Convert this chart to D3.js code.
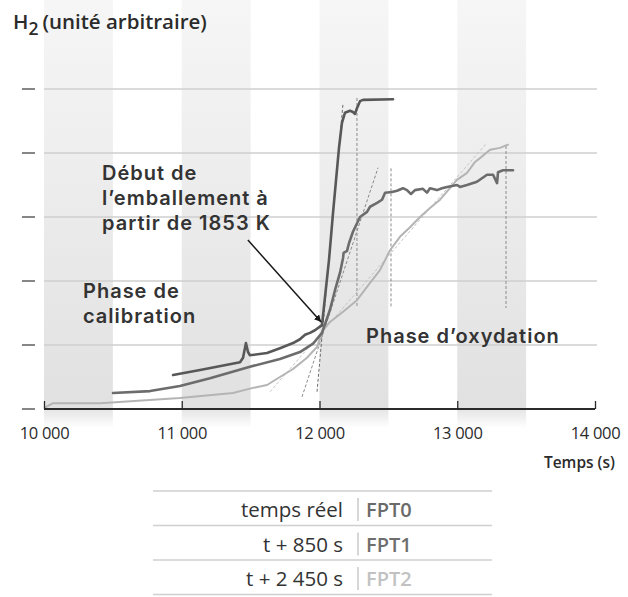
<!DOCTYPE html>
<html>
<head>
<meta charset="utf-8">
<script src="https://cdn.jsdelivr.net/npm/d3@7"></script>
<style>
  html, body { margin: 0; padding: 0; background: #fff; }
  svg { display: block; font-family: "Open Sans", "Noto Sans", sans-serif; }
  .note { font-family: "Inter", "Open Sans", sans-serif; letter-spacing: 1px; }
</style>
</head>
<body>
<svg id="chart" width="628" height="597"></svg>
<script>
// Hydrogen release, arbitrary units, vs. time (s)
const seriesNames = ["FPT0", "FPT1", "FPT2"];
const timeShifts = ["temps réel", "t + 850 s", "t + 2 450 s"];
const xTicks = [10000, 11000, 12000, 13000, 14000];
const yTicks = [0, 1, 2, 3, 4, 5];
const bandStarts = [10000, 11000, 12000, 13000]; // 500 s shaded bands

const fpt0 = [
  [10937, 0.53], [11133, 0.61], [11423, 0.73], [11445, 0.80], [11466, 1.03],
  [11481, 0.89], [11495, 0.84], [11619, 0.875], [11713, 0.95], [11808, 1.03],
  [11858, 1.09], [11895, 1.16], [11931, 1.19], [11967, 1.23], [12018, 1.31],
  [12069, 2.33], [12098, 3.06], [12142, 4.09], [12163, 4.47], [12185, 4.63],
  [12221, 4.66], [12243, 4.64], [12258, 4.61], [12272, 4.70], [12294, 4.81],
  [12316, 4.83], [12534, 4.84]
];
const fpt1 = [
  [10501, 0.25], [10770, 0.28], [10987, 0.36], [11205, 0.48], [11495, 0.66],
  [11713, 0.78], [11858, 0.89], [11953, 1.02], [12018, 1.19], [12076, 1.55],
  [12113, 1.86], [12149, 2.13], [12171, 2.36], [12175, 2.44], [12200, 2.47],
  [12214, 2.59], [12243, 2.77], [12294, 3.00], [12345, 3.08], [12367, 3.16],
  [12418, 3.22], [12454, 3.27], [12476, 3.38], [12526, 3.39], [12563, 3.41],
  [12606, 3.45], [12635, 3.42], [12664, 3.36], [12693, 3.42], [12751, 3.44],
  [12780, 3.38], [12802, 3.45], [12853, 3.42], [12889, 3.45], [12926, 3.47],
  [12998, 3.50], [13020, 3.47], [13071, 3.50], [13143, 3.55], [13216, 3.66],
  [13260, 3.66], [13289, 3.53], [13296, 3.70], [13332, 3.73], [13405, 3.73]
];
const fpt2 = [
  [10007, 0.02], [10065, 0.09], [10407, 0.09], [10987, 0.17], [11372, 0.25],
  [11517, 0.33], [11619, 0.375], [11713, 0.50], [11808, 0.625], [11909, 0.80],
  [11982, 0.97], [12025, 1.23], [12076, 1.36], [12171, 1.52], [12272, 1.70],
  [12367, 1.97], [12439, 2.17], [12512, 2.48], [12584, 2.69], [12657, 2.84],
  [12730, 3.00], [12802, 3.14], [12875, 3.27], [12947, 3.45], [12998, 3.58],
  [13071, 3.69], [13129, 3.86], [13165, 3.92], [13238, 4.05], [13310, 4.08],
  [13368, 4.13]
];

// Dashed slope lines through the runaway point
const slope0 = [[11982, 0.27], [12171, 4.78]];
const slope1 = [[11873, 0.19], [12425, 3.77]];
const slope2 = [[11641, 0.27], [13216, 4.16]];
// Dashed vertical markers: [time, top value]
const markers = [[12272, 4.86], [12519, 3.76], [13354, 4.11]];
const markerBase = 1.58;

// Runaway annotation arrow: [time, value] from, to
const arrowFrom = [11480, 2.64];
const arrowTo = [12012, 1.36];

const colors = { FPT0: "#585858", FPT1: "#6c6c6c", FPT2: "#b4b4b4" };
const legendColors = { FPT0: "#6a6a6a", FPT1: "#6e6e6e", FPT2: "#c2c2c2" };

const svg = d3.select("#chart");
const x = d3.scaleLinear().domain([10000, 14000]).range([44, 595]);
const y = d3.scaleLinear().domain([0, 5]).range([409, 89]);

const defs = svg.append("defs");
const grad = defs.append("linearGradient")
  .attr("id", "bandFill").attr("x1", 0).attr("y1", 0).attr("x2", 0).attr("y2", 1);
grad.append("stop").attr("offset", "0%").attr("stop-color", "#f6f6f6");
grad.append("stop").attr("offset", "95%").attr("stop-color", "#e1e1e1");
grad.append("stop").attr("offset", "100%").attr("stop-color", "#ffffff");

defs.append("marker")
  .attr("id", "arrowHead")
  .attr("viewBox", "0 0 10 10")
  .attr("refX", 10).attr("refY", 5)
  .attr("markerWidth", 7).attr("markerHeight", 7)
  .attr("markerUnits", "userSpaceOnUse")
  .attr("orient", "auto")
  .append("path").attr("d", "M0,0 L10,5 L0,10 Z").attr("fill", "#1a1a1a");

// Shaded time bands
svg.append("g").selectAll("rect").data(bandStarts).join("rect")
  .attr("x", d => x(d))
  .attr("width", d => x(d + 500) - x(d))
  .attr("y", 0)
  .attr("height", 428)
  .attr("fill", "url(#bandFill)");

// Horizontal gridlines
svg.append("g").selectAll("line").data(yTicks.filter(d => d > 0)).join("line")
  .attr("x1", x(10000)).attr("x2", 597)
  .attr("y1", d => y(d)).attr("y2", d => y(d))
  .attr("stroke", "#cfcfcf").attr("stroke-width", 1.5);

// Left tick dashes (unlabelled value axis)
svg.append("g").selectAll("line").data(yTicks).join("line")
  .attr("x1", 22).attr("x2", 35)
  .attr("y1", d => y(d)).attr("y2", d => y(d))
  .attr("stroke", "#444").attr("stroke-width", 1.3);

// Slope lines
const line = d3.line().x(d => x(d[0])).y(d => y(d[1]));
svg.append("path").datum(slope0).attr("d", line)
  .attr("stroke", "#6a6a6a").attr("stroke-width", 1).attr("stroke-dasharray", "3,2").attr("fill", "none");
svg.append("path").datum(slope1).attr("d", line)
  .attr("stroke", "#8a8a8a").attr("stroke-width", 1).attr("stroke-dasharray", "3,2").attr("fill", "none");
svg.append("path").datum(slope2).attr("d", line)
  .attr("stroke", "#c4c4c4").attr("stroke-width", 1).attr("stroke-dasharray", "3,2").attr("fill", "none");

// Vertical markers
svg.append("g").selectAll("line").data(markers).join("line")
  .attr("x1", d => x(d[0])).attr("x2", d => x(d[0]))
  .attr("y1", d => y(d[1])).attr("y2", y(markerBase))
  .attr("stroke", "#8a8a8a").attr("stroke-width", 1).attr("stroke-dasharray", "3,2");

// Series
[["FPT2", fpt2, 2], ["FPT1", fpt1, 2.6], ["FPT0", fpt0, 2.6]].forEach(([name, data, w]) => {
  svg.append("path").datum(data)
    .attr("d", line)
    .attr("fill", "none")
    .attr("stroke", colors[name])
    .attr("stroke-width", w)
    .attr("stroke-linejoin", "round")
    .attr("stroke-linecap", "round");
});

// Time axis
const fmt = d3.formatLocale({ decimal: ",", thousands: " ", grouping: [3], currency: ["", " €"] }).format(",");
const xAxis = svg.append("g").attr("transform", `translate(0,${y(0)})`)
  .call(d3.axisBottom(x).tickValues(xTicks).tickSize(0).tickPadding(0).tickFormat(fmt));
xAxis.select(".domain").attr("stroke", "#2b2b2b").attr("stroke-width", 2)
  .attr("d", `M${x(10000)},0H${x(14000)}`);
xAxis.selectAll(".tick line").attr("y2", -8).attr("stroke", "#2b2b2b").attr("stroke-width", 1.3);
xAxis.selectAll(".tick text")
  .attr("y", 30).attr("dy", 0)
  .attr("fill", "#2b2b2b")
  .style("font-size", "16.5px")
  .style("letter-spacing", "-0.3px");
xAxis.attr("font-family", null).attr("font-size", null);

svg.append("text")
  .attr("x", 615).attr("y", 468)
  .attr("text-anchor", "end")
  .attr("fill", "#2b2b2b")
  .style("font-size", "15.5px").style("font-weight", 600)
  .text("Temps (s)");

// Value-axis title
const title = svg.append("text")
  .attr("x", 13).attr("y", 29)
  .attr("fill", "#2b2b2b")
  .style("font-size", "20.5px").style("font-weight", 600);
title.append("tspan").text("H");
title.append("tspan").attr("dy", 6).style("font-size", "17.5px").text("2");
title.append("tspan").attr("dy", -6).attr("dx", 4).text("(unité arbitraire)");

// Annotations
function block(lines, x0, y0, lh) {
  const t = svg.append("text").attr("class", "note").attr("x", x0).attr("y", y0)
    .attr("fill", "#333").style("font-size", "20px").style("font-weight", 600);
  lines.forEach((s, i) => t.append("tspan").attr("x", x0).attr("y", y0 + i * lh).text(s));
}
block(["Début de", "l’emballement à", "partir de 1853 K"], 102, 180, 25);
block(["Phase de", "calibration"], 83, 298, 25);
block(["Phase d’oxydation"], 366, 343, 25);

svg.append("line")
  .attr("x1", x(arrowFrom[0])).attr("y1", y(arrowFrom[1]))
  .attr("x2", x(arrowTo[0])).attr("y2", y(arrowTo[1]))
  .attr("stroke", "#1a1a1a").attr("stroke-width", 1.5)
  .attr("marker-end", "url(#arrowHead)");

// Legend table
const rowTop = 491, rowH = 34.5;
const legend = svg.append("g");
legend.selectAll("line.rule").data(d3.range(4)).join("line")
  .attr("class", "rule")
  .attr("x1", 153).attr("x2", 492)
  .attr("y1", i => rowTop + i * rowH).attr("y2", i => rowTop + i * rowH)
  .attr("stroke", "#cfcfcf").attr("stroke-width", 1.3);
const rows = legend.selectAll("g.row").data(seriesNames).join("g")
  .attr("class", "row")
  .attr("transform", (d, i) => `translate(0,${rowTop + i * rowH})`);
rows.append("text")
  .attr("x", 343).attr("y", 26).attr("text-anchor", "end")
  .attr("fill", "#333").style("font-size", "20.5px")
  .text((d, i) => timeShifts[i]);
rows.append("line")
  .attr("x1", 358).attr("x2", 358).attr("y1", 7).attr("y2", 30)
  .attr("stroke", "#bdbdbd").attr("stroke-width", 1.2);
rows.append("text")
  .attr("x", 366).attr("y", 26)
  .attr("fill", d => legendColors[d]).style("font-size", "20px").style("font-weight", 600)
  .text(d => d);
</script>
</body>
</html>
